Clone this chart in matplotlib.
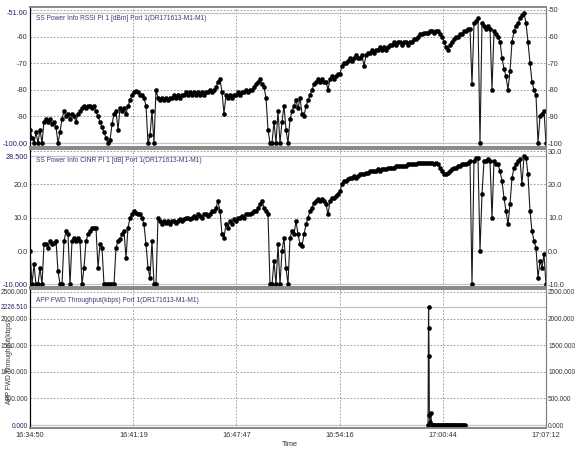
import numpy as np
import matplotlib
matplotlib.use("Agg")
import matplotlib.pyplot as plt

# time axis in seconds after 16:34:50
t_start_s = 0
t_end_s = 1942
time_ticks_s = [0, 389, 777, 1166, 1554, 1942]
time_tick_labels = ["16:34:50", "16:41:19", "16:47:47", "16:54:16", "17:00:44", "17:07:12"]

# RSSI (dBm), evenly logged over the drive
rssi_dbm = [
    -95, -98, -100, -96, -100, -95, -100, -92, -91, -92,
    -91, -93, -92, -94, -100, -96, -91, -88, -90, -89,
    -91, -89, -90, -92, -89, -88, -87, -86, -87, -86,
    -86, -87, -86, -88, -90, -92, -94, -96, -98, -100,
    -99, -93, -89, -88, -95, -87, -88, -87, -89, -86,
    -84, -82, -81, -80.5, -81, -82, -82, -83, -86, -100,
    -97, -88, -100, -80, -83, -84, -83, -84, -83, -84,
    -83, -83, -82, -83, -82, -83, -82, -82, -81, -82,
    -81, -82, -81, -82, -81, -82, -81, -82, -81, -81,
    -80, -81, -80, -79, -77, -76, -81, -89, -82, -83,
    -82, -83, -82, -82, -81, -82, -81, -81, -80, -81,
    -80, -80, -79, -78, -77, -76, -78, -79, -83, -95,
    -100, -100, -92, -100, -88, -100, -92, -86, -95, -100,
    -91, -88, -86, -84, -87, -83, -89, -90, -86, -84,
    -82, -80, -78, -77, -76, -77, -76, -77, -77, -80,
    -76, -75, -76, -75, -74, -74, -71, -70, -70, -69,
    -68, -69, -68, -67, -68, -68, -67, -71, -67, -66,
    -66, -65, -66, -65, -65, -64, -65, -64, -65, -64,
    -63, -63, -62, -63, -62, -62, -63, -62, -62, -63,
    -62, -62, -61, -61, -60, -59, -59, -58.5, -58.5, -58.5,
    -58, -58, -58.5, -58, -58, -59, -60, -62, -64, -65,
    -63, -62, -61, -60, -60, -59, -59, -58, -58, -57,
    -57, -78, -55, -54, -53, -100, -55, -56, -57, -56,
    -57, -80, -58, -59, -60, -62, -68, -72, -75, -80,
    -73, -62, -58, -56, -55, -53, -52, -51, -55, -62,
    -70, -77, -80, -82, -100, -90, -89, -88, -100,
]

# CINR (dB)
cinr_db = [
    0, -10, -4, -10, -10, -5, -10, 2, 2, 1,
    3, 2, 2.5, 3, -6, -10, -10, 3, 6, 5,
    -10, 3, 4, 3, 4, 3, -10, -5, 3, 5,
    6, 7, 7, 7, -5, 2, 1, -10, -10, -10,
    -10, -10, -10, 1, 3, 3.5, 5, 6, -2, 7,
    10, 11, 12, 11.5, 11, 11, 10, 8, 2, -5,
    -8, 3, -10, -10, 10, 9, 8, 9, 8.5, 9,
    8, 9, 9, 8.5, 9, 9.5, 9, 9.5, 10, 10,
    9.5, 10, 10.5, 10, 11, 10.5, 10, 11, 11, 10.5,
    11, 12, 12, 13, 15, 12, 5, 4, 8, 7,
    9, 8, 9.5, 9, 10, 10, 10.5, 10, 11, 11,
    11, 11.5, 12, 12, 13, 14, 15, 13, 12, 11,
    -10, -10, -3, -10, 2, -10, 0, 4, -5, -10,
    4, 6, 5, 9, 5, 2, 1.5, 5, 8, 10,
    12, 13, 14.5, 15, 15.5, 15, 15.5, 15, 14, 11,
    15, 16, 16, 16.5, 17, 18, 20, 21, 21, 21.5,
    22, 22, 22.5, 22, 22.5, 23, 23, 23, 23.5, 23.5,
    24, 24, 24, 24, 24.5, 24, 24.5, 24.5, 24.5, 25,
    25, 25, 25, 25.5, 25.5, 25.5, 25.5, 25.5, 25.5, 26,
    26, 26, 26, 26, 26.5, 26.5, 26.5, 26.5, 26.5, 26.5,
    26.5, 26.5, 26, 26.5, 26, 25, 24, 23, 23, 23.5,
    24, 24.5, 25, 25, 25.5, 25.5, 26, 26, 26, 26.5,
    27, -10, 27, 28, 28, 0, 17, 27, 27, 27.5,
    27, 10, 27, 26, 26, 24, 21, 16, 12, 8,
    14, 22, 25, 26, 27, 27.5, 20, 28.5, 28, 23,
    12, 6, 3, 1, -8, -3, -5, -1, -10,
]

# APP FWD throughput (kbps), only logged near 17:00
thr_time_s = [1498, 1500, 1501, 1502, 1503, 1505, 1508, 1512, 1516, 1520,
              1525, 1530, 1535, 1540, 1545, 1550, 1555, 1560, 1565, 1570,
              1575, 1580, 1585, 1590, 1595, 1600, 1605, 1610, 1615, 1620,
              1625, 1630, 1636]
thr_kbps = [0, 2226.51, 1820, 1300, 190, 60, 230, 0, 0, 0,
            0, 0, 0, 0, 0, 0, 0, 0, 0, 0,
            0, 0, 0, 0, 0, 0, 0, 0, 0, 0,
            0, 0, 0]

titles = [
    "SS Power Info RSSI PI 1 [dBm] Port 1(DR171613-M1-M1)",
    "SS Power Info CINR PI 1 [dB] Port 1(DR171613-M1-M1)",
    "APP FWD Throughput(kbps) Port 1(DR171613-M1-M1)",
]

plt.rcParams["font.family"] = ["Liberation Sans", "DejaVu Sans"]
LBL = "#333333"
NAVY = "#222266"
TITLE_C = "#3c3c78"

W, H = 576, 450
fig = plt.figure(figsize=(W / 100, H / 100), dpi=100)


def box(top_px, bot_px):
    return [30 / W, 1 - bot_px / H, 516 / W, (bot_px - top_px) / H]


def panel(rect, t, v, ylim, grid_vals, vmax, vmin, left_ticks, left_lbls,
          right_ticks, right_lbls, title, fs):
    ax = fig.add_axes(rect)
    ax.set_xlim(t_start_s, t_end_s)
    ax.set_ylim(*ylim)
    for g in grid_vals:
        ax.axhline(g, color="#8c8c8c", lw=0.6, ls=(0, (2, 2)), zorder=1)
    for x in time_ticks_s[1:-1]:
        ax.axvline(x, color="#8c8c8c", lw=0.6, ls=(0, (2, 2)), zorder=1)
    ax.axhline(vmax, color="#c4c4c4", lw=0.9, zorder=1)
    ax.axhline(vmin, color="#c4c4c4", lw=0.9, zorder=1)
    ax.plot(t, v, color="#1a1a1a", lw=0.8, marker="o", ms=3.0,
            mfc="black", mec="black", mew=0.3, zorder=3)

    ax.set_yticks(left_ticks)
    ax.set_yticklabels(left_lbls)
    for lab, val in zip(ax.get_yticklabels(), left_ticks):
        lab.set_color(NAVY if val in (vmax, vmin) else LBL)
    ax.tick_params(axis="y", length=0, pad=1.5, labelsize=fs)

    ax2 = ax.twinx()
    ax2.set_ylim(*ylim)
    ax2.set_yticks(right_ticks)
    ax2.set_yticklabels(right_lbls)
    ax2.tick_params(axis="y", length=0, pad=1.5, labelsize=fs, labelcolor=LBL)

    ax.set_xticks(time_ticks_s)
    for a in (ax, ax2):
        a.spines["left"].set_color("black")
        a.spines["left"].set_linewidth(0.8)
        a.spines["right"].set_color("#808080")
        a.spines["right"].set_linewidth(0.8)
        a.spines["top"].set_color("#8a8a8a")
        a.spines["top"].set_linewidth(1.3)
        a.spines["bottom"].set_color("#8a8a8a")
        a.spines["bottom"].set_linewidth(1.3)

    ax.annotate(title, xy=(0, 1), xycoords="axes fraction",
                xytext=(4.5, -8.5), textcoords="offset points",
                fontsize=4.8, color=TITLE_C, va="center", ha="left")
    return ax


t_rssi = np.linspace(t_start_s, t_end_s, len(rssi_dbm))
t_cinr = np.linspace(t_start_s, t_end_s, len(cinr_db))

ax1 = panel(box(6.5, 147), t_rssi, rssi_dbm, (-101.5, -48.7),
            [-50, -60, -70, -80, -90], -51, -100,
            [-51, -60, -70, -80, -90, -100],
            ["-51.00", "-60", "-70", "-80", "-90", "-100.00"],
            [-50, -60, -70, -80, -90, -100],
            ["-50", "-60", "-70", "-80", "-90", "-100"], titles[0], 5.3)
ax1.tick_params(axis="x", length=0, labelbottom=False)

ax2 = panel(box(148.5, 287), t_cinr, cinr_db, (-10.75, 30.75),
            [30, 20, 10, 0], 28.5, -10,
            [28.5, 20, 10, 0, -10],
            ["28.500", "20.0", "10.0", "0.0", "-10.000"],
            [30, 20, 10, 0, -10],
            ["30.0", "20.0", "10.0", "0.0", "-10.0"], titles[1], 5.3)
ax2.tick_params(axis="x", length=0, labelbottom=False)

ax3 = panel(box(289, 428), thr_time_s, thr_kbps, (-56, 2556),
            [2500, 2000, 1500, 1000, 500], 2226.51, 0,
            [2500, 2226.51, 2000, 1500, 1000, 500, 0],
            ["2500.000", "2226.510", "2000.000", "1500.000", "1000.000", "500.000", "0.000"],
            [2500, 2000, 1500, 1000, 500, 0],
            ["2500.000", "2000.000", "1500.000", "1000.000", "500.000", "0.000"],
            titles[2], 4.7)
ax3.set_xticklabels(time_tick_labels)
ax3.tick_params(axis="x", length=0, pad=3, labelsize=5.3, labelcolor=LBL)

fig.text(10 / W, 1 - 362 / H, "APP FWD Throughput(kbps)", rotation=90,
         fontsize=4.8, color=LBL, ha="center", va="center")
fig.text(290 / W, 1 - 445 / H, "Time", fontsize=5.3, color=LBL,
         ha="center", va="center")

fig.savefig("out.png", dpi=100, facecolor="white")
